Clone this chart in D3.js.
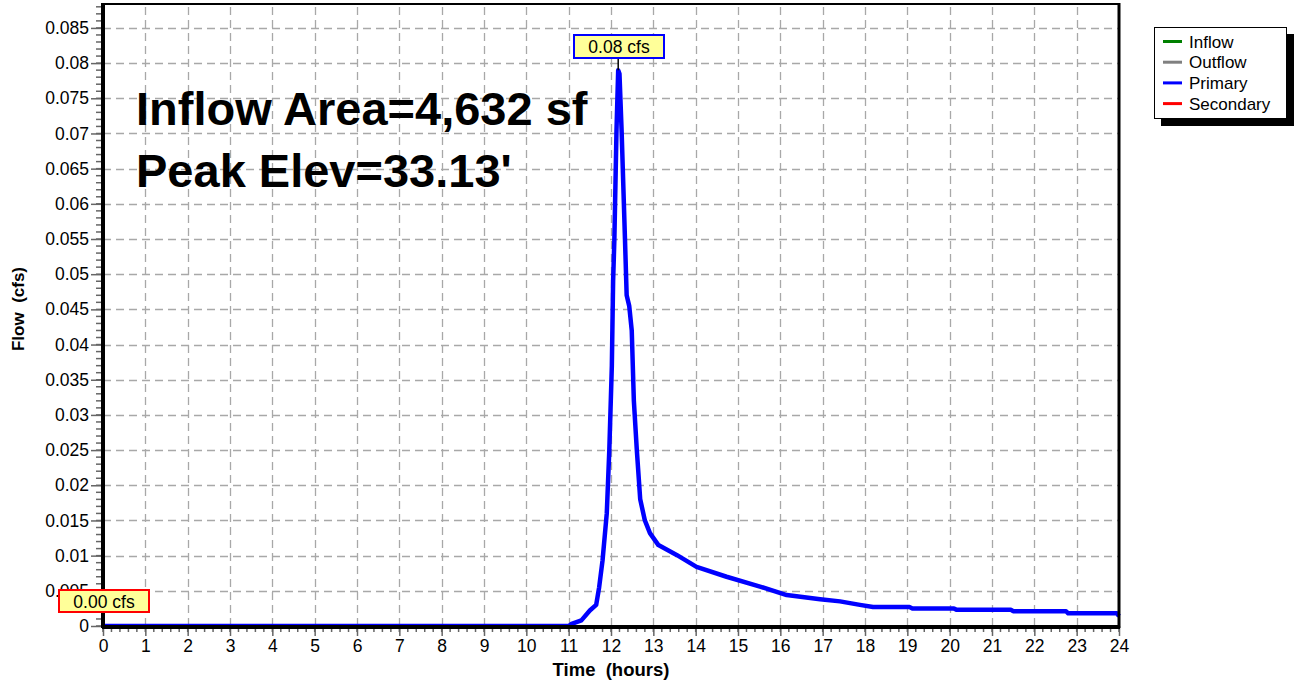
<!DOCTYPE html>
<html>
<head>
<meta charset="utf-8">
<script src="https://cdn.jsdelivr.net/npm/d3@7/dist/d3.min.js"></script>
<style>
  html, body { margin: 0; padding: 0; background: #fff; }
  svg { display: block; font-family: "Liberation Sans", Arial, sans-serif; }
  text { white-space: pre; }
</style>
</head>
<body>
<svg id="chart" width="1294" height="684"></svg>
<script>
// ---- data ----
const primaryTime = [0, 11.0, 11.07, 11.3, 11.5, 11.65, 11.72, 11.8, 11.9, 11.96, 12.02, 12.05, 12.08, 12.13, 12.17, 12.2, 12.25, 12.33, 12.37, 12.43, 12.49, 12.54, 12.61, 12.69, 12.8, 12.92, 13.12, 13.55, 14.02, 14.73, 15.52, 16.15, 16.94, 17.41, 17.88, 18.19, 19.05, 19.12, 20.1, 20.16, 21.45, 21.5, 22.75, 22.8, 23.95, 24];
const primaryFlow = [0, 0, 0.0003, 0.0008, 0.0022, 0.003, 0.0055, 0.0093, 0.016, 0.025, 0.037, 0.049, 0.055, 0.0705, 0.079, 0.0785, 0.0705, 0.055, 0.047, 0.0455, 0.042, 0.032, 0.025, 0.018, 0.015, 0.0132, 0.0115, 0.0101, 0.0084, 0.007, 0.0056, 0.0044, 0.0038, 0.0035, 0.003, 0.0027, 0.0027, 0.0025, 0.0025, 0.0023, 0.0023, 0.0021, 0.0021, 0.0018, 0.0018, 0.0014];
const secondaryTime = [0, 24];
const secondaryFlow = [0, 0];
const xTicks = d3.range(0, 25, 1);
const yTicks = [0, 0.005, 0.01, 0.015, 0.02, 0.025, 0.03, 0.035, 0.04, 0.045, 0.05, 0.055, 0.06, 0.065, 0.07, 0.075, 0.08, 0.085];
const legendNames = ["Inflow", "Outflow", "Primary", "Secondary"];
const legendColors = ["#008000", "#808080", "#0000ff", "#ff0000"];
const peakLabel = "0.08 cfs";
const peakTime = 12.17, peakFlow = 0.079;
const secLabel = "0.00 cfs";
const infoLines = ["Inflow Area=4,632 sf", "Peak Elev=33.13'"];

// ---- layout ----
const svg = d3.select("#chart");
const L = 103, R = 1119, T = 4, B = 626;
const x = d3.scaleLinear().domain([0, 24]).range([L, R]);
const y = d3.scaleLinear().domain([0, 0.0884]).range([B, T]);

// grid
const grid = svg.append("g").attr("stroke", "#a8a8a8").attr("stroke-width", 1.3).attr("stroke-dasharray", "8,5");
grid.selectAll(".gx").data(xTicks.slice(1, -1)).join("line")
  .attr("x1", d => Math.round(x(d)) + 0.5).attr("x2", d => Math.round(x(d)) + 0.5)
  .attr("y1", B).attr("y2", T);
grid.selectAll(".gy").data(yTicks.slice(1)).join("line")
  .attr("y1", d => Math.round(y(d)) + 0.5).attr("y2", d => Math.round(y(d)) + 0.5)
  .attr("x1", L).attr("x2", R);

// minor ticks
const minorX = d3.range(0, 24.001, 0.2);
const minorY = d3.range(0, 0.0881, 0.001);
svg.append("g").attr("stroke", "#666").attr("stroke-width", 1.5)
  .selectAll("line").data(minorX).join("line")
  .attr("x1", d => x(d)).attr("x2", d => x(d))
  .attr("y1", B).attr("y2", B + 6);
svg.append("g").attr("stroke", "#666").attr("stroke-width", 1.5)
  .selectAll("line").data(minorY).join("line")
  .attr("y1", d => y(d)).attr("y2", d => y(d))
  .attr("x1", L - 7).attr("x2", L);

// axes
const xAxis = d3.axisBottom(x).tickValues(xTicks).tickFormat(d3.format("d")).tickSize(10).tickPadding(4);
const gx = svg.append("g").attr("transform", `translate(0,${B})`).call(xAxis);
gx.select(".domain").remove();
gx.selectAll("line").attr("stroke", "#666").attr("stroke-width", 1.5);
gx.selectAll("text").attr("font-size", 17.5).attr("fill", "#000").attr("font-family", "Liberation Sans, Arial, sans-serif");

const yAxis = d3.axisLeft(y).tickValues(yTicks).tickFormat(d => d === 0 ? "0" : d3.format("~g")(+d.toFixed(3))).tickSize(12).tickPadding(2);
const gy = svg.append("g").attr("transform", `translate(${L},0)`).call(yAxis);
gy.select(".domain").remove();
gy.selectAll("line").attr("stroke", "#666").attr("stroke-width", 1.5);
gy.selectAll("text").attr("font-size", 17.5).attr("fill", "#000").attr("font-family", "Liberation Sans, Arial, sans-serif");

// axis titles
svg.append("text").attr("x", 611).attr("y", 676).attr("text-anchor", "middle")
  .attr("font-size", 18.5).attr("font-weight", "bold").text("Time  (hours)");
svg.append("text").attr("transform", "translate(24,309) rotate(-90)").attr("text-anchor", "middle")
  .attr("font-size", 17).attr("font-weight", "bold").text("Flow  (cfs)");

// info text
svg.append("g").selectAll("text").data(infoLines).join("text")
  .attr("x", 136).attr("y", (d, i) => 125 + i * 62)
  .attr("font-size", 47).attr("font-weight", "bold").attr("fill", "#000").text(d => d);

// series
const line = d3.line().x(d => x(d[0])).y(d => y(d[1]));
svg.append("path").datum(d3.zip(secondaryTime, secondaryFlow)).attr("d", line)
  .attr("fill", "none").attr("stroke", "#d02020").attr("stroke-width", 1.5);
svg.append("path").datum(d3.zip(primaryTime, primaryFlow)).attr("d", line)
  .attr("fill", "none").attr("stroke", "#0000ff").attr("stroke-width", 4.5).attr("stroke-linejoin", "round");

// frame
svg.append("rect").attr("x", L).attr("y", T).attr("width", R - L).attr("height", B - T)
  .attr("fill", "none").attr("stroke", "#000").attr("stroke-width", 2);
svg.append("line").attr("x1", L).attr("x2", L).attr("y1", T - 1).attr("y2", B + 2).attr("stroke", "#000").attr("stroke-width", 4);
svg.append("line").attr("x1", L - 1).attr("x2", R + 1).attr("y1", B + 1).attr("y2", B + 1).attr("stroke", "#000").attr("stroke-width", 4);
svg.append("line").attr("x1", R).attr("x2", R).attr("y1", T - 1).attr("y2", B + 2).attr("stroke", "#000").attr("stroke-width", 3);

// peak callout
const px = x(peakTime), py = y(peakFlow);
svg.append("line").attr("x1", px).attr("x2", px).attr("y1", 58).attr("y2", py).attr("stroke", "#000").attr("stroke-width", 1.5);
svg.append("rect").attr("x", 574).attr("y", 35).attr("width", 90).attr("height", 23)
  .attr("fill", "#ffff99").attr("stroke", "#0000ff").attr("stroke-width", 2);
svg.append("text").attr("x", 619).attr("y", 53).attr("text-anchor", "middle").attr("font-size", 17.5).text(peakLabel);

// secondary callout
svg.append("rect").attr("x", 59).attr("y", 590).attr("width", 90).attr("height", 22)
  .attr("fill", "#ffff99").attr("stroke", "#ff0000").attr("stroke-width", 2);
svg.append("text").attr("x", 104).attr("y", 608).attr("text-anchor", "middle").attr("font-size", 17.5).text(secLabel);

// legend
const lg = svg.append("g");
lg.append("rect").attr("x", 1161).attr("y", 34).attr("width", 133).attr("height", 92).attr("fill", "#000");
lg.append("rect").attr("x", 1154.5).attr("y", 27.5).attr("width", 132).attr("height", 91).attr("fill", "#fff").attr("stroke", "#000").attr("stroke-width", 1);
const items = lg.selectAll(".it").data(legendNames).join("g").attr("transform", (d, i) => `translate(0,${41.5 + i * 20.7})`);
items.append("line").attr("x1", 1163).attr("x2", 1182).attr("y1", 0).attr("y2", 0)
  .attr("stroke", (d, i) => legendColors[i]).attr("stroke-width", 3);
items.append("text").attr("x", 1189).attr("y", 6).attr("font-size", 17).text(d => d);
</script>
</body>
</html>
